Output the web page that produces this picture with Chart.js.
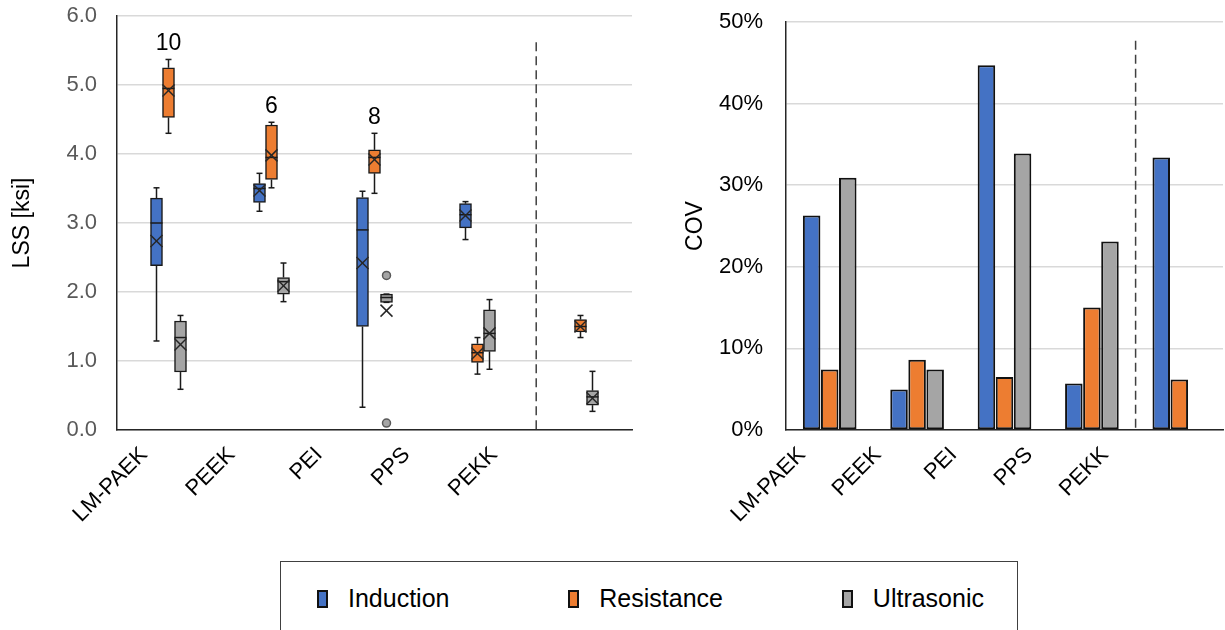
<!DOCTYPE html>
<html>
<head>
<meta charset="utf-8">
<script src="https://cdn.jsdelivr.net/npm/chart.js@4.4.0/dist/chart.umd.min.js"></script>
<style>
  body { margin: 0; width: 1225px; height: 630px; background: #fff; position: relative; overflow: hidden; font-family: 'Liberation Sans', Arial, sans-serif; }
  .panel { position: absolute; top: 0; height: 550px; }
  #legend { position: absolute; left: 280px; top: 561px; width: 738px; height: 90px; border: 1.5px solid #404040; box-sizing: border-box;
            display: flex; justify-content: space-between; align-items: flex-start; padding: 22px 33px 0 36px; }
  .item { display: flex; align-items: center; font-size: 25px; color: #000; }
  .swatch { width: 11px; height: 18px; border: 2px solid #111; box-sizing: border-box; margin-right: 20px; }
</style>
</head>
<body>
<div class="panel" style="left:0; width:650px;"><canvas id="lss"></canvas></div>
<div class="panel" style="left:650px; width:575px;"><canvas id="cov"></canvas></div>
<div id="legend"></div>
<script>
const categories = ['LM-PAEK', 'PEEK', 'PEI', 'PPS', 'PEKK'];
const methods = ['Induction', 'Resistance', 'Ultrasonic'];
const methodColors = ['#4472C4', '#ED7D31', '#A5A5A5'];

// LSS box plot stats [ksi], per category
const inductionMin    = [1.29, 3.17, 0.33, 2.76, null];
const inductionQ1     = [2.38, 3.30, 1.50, 2.93, null];
const inductionMedian = [3.00, 3.50, 2.90, 3.12, null];
const inductionQ3     = [3.36, 3.57, 3.37, 3.28, null];
const inductionMax    = [3.51, 3.72, 3.46, 3.31, null];
const inductionMean   = [2.74, 3.47, 2.42, 3.11, null];

const resistanceMin    = [4.30, 3.51, 3.43, 0.81, 1.34];
const resistanceQ1     = [4.53, 3.63, 3.72, 0.98, 1.42];
const resistanceMedian = [4.95, 3.95, 3.95, 1.12, 1.50];
const resistanceQ3     = [5.25, 4.42, 4.06, 1.25, 1.60];
const resistanceMax    = [5.37, 4.46, 4.30, 1.34, 1.66];
const resistanceMean   = [4.92, 3.98, 3.92, 1.11, 1.50];
const resistanceCount  = ['10', '6', '8', null, null];

const ultrasonicMin    = [0.59, 1.86, 1.85, 0.88, 0.27];
const ultrasonicQ1     = [0.84, 1.97, 1.85, 1.14, 0.36];
const ultrasonicMedian = [1.34, 2.15, 1.92, 1.40, 0.48];
const ultrasonicQ3     = [1.58, 2.21, 1.97, 1.74, 0.57];
const ultrasonicMax    = [1.66, 2.42, 1.97, 1.89, 0.85];
const ultrasonicMean   = [1.24, 2.09, 1.73, 1.40, 0.46];
const ultrasonicOutliers = [[], [], [2.24, 0.10], [], []];

// COV [%]
const inductionCov  = [26.3, 4.95, 44.7, 5.7, 33.4];
const resistanceCov = [7.4, 8.6, 6.5, 15.0, 6.2];
const ultrasonicCov = [30.9, 7.4, 33.9, 23.1, null];

const boxStats = [
  { min: inductionMin, q1: inductionQ1, med: inductionMedian, q3: inductionQ3, max: inductionMax, mean: inductionMean, out: [], count: [] },
  { min: resistanceMin, q1: resistanceQ1, med: resistanceMedian, q3: resistanceQ3, max: resistanceMax, mean: resistanceMean, out: [], count: resistanceCount },
  { min: ultrasonicMin, q1: ultrasonicQ1, med: ultrasonicMedian, q3: ultrasonicQ3, max: ultrasonicMax, mean: ultrasonicMean, out: ultrasonicOutliers, count: [] }
];

Chart.defaults.font.family = "'Liberation Sans', Arial, sans-serif";

// whiskers, median, mean marker, outliers, n labels
const boxWhisker = {
  id: 'boxWhisker',
  afterDatasetsDraw(chart) {
    const ctx = chart.ctx;
    const y = chart.scales.y;
    const line = (x1, y1, x2, y2) => { ctx.beginPath(); ctx.moveTo(x1, y1); ctx.lineTo(x2, y2); ctx.stroke(); };
    chart.data.datasets.forEach((ds, d) => {
      const st = boxStats[d];
      chart.getDatasetMeta(d).data.forEach((bar, i) => {
        if (st.q1[i] == null) return;
        const x = bar.x, hw = bar.width / 2;
        ctx.save();
        ctx.strokeStyle = '#1a1a1a';
        ctx.lineWidth = 1.5;
        line(x, y.getPixelForValue(st.q3[i]), x, y.getPixelForValue(st.max[i]));
        line(x - 3, y.getPixelForValue(st.max[i]), x + 3, y.getPixelForValue(st.max[i]));
        line(x, y.getPixelForValue(st.q1[i]), x, y.getPixelForValue(st.min[i]));
        line(x - 3, y.getPixelForValue(st.min[i]), x + 3, y.getPixelForValue(st.min[i]));
        line(x - hw, y.getPixelForValue(st.med[i]), x + hw, y.getPixelForValue(st.med[i]));
        const my = y.getPixelForValue(st.mean[i]);
        ctx.strokeStyle = '#262626';
        line(x - 6, my - 6, x + 6, my + 6);
        line(x - 6, my + 6, x + 6, my - 6);
        (st.out[i] || []).forEach(v => {
          ctx.beginPath();
          ctx.arc(x, y.getPixelForValue(v), 4, 0, Math.PI * 2);
          ctx.fillStyle = methodColors[d];
          ctx.fill();
          ctx.strokeStyle = '#595959';
          ctx.stroke();
        });
        if (st.count[i]) {
          ctx.fillStyle = '#000';
          ctx.font = "23px 'Liberation Sans', Arial, sans-serif";
          ctx.textAlign = 'center';
          ctx.textBaseline = 'alphabetic';
          ctx.fillText(st.count[i], x, y.getPixelForValue(st.max[i]) - 9);
        }
        ctx.restore();
      });
    });
  }
};

// dashed separator before PEKK
const divider = {
  id: 'divider',
  afterDatasetsDraw(chart, args, opts) {
    const { ctx, scales: { x, y } } = chart;
    const px = x.getPixelForValue(opts.at);
    ctx.save();
    ctx.setLineDash([9, 5]);
    ctx.strokeStyle = '#404040';
    ctx.lineWidth = 1.5;
    ctx.beginPath();
    ctx.moveTo(px, y.getPixelForValue(opts.top));
    ctx.lineTo(px, y.getPixelForValue(0));
    ctx.stroke();
    ctx.restore();
  }
};

// category names sit on their own axis, offset from the groups as in the original
function labelAxis(min, max) {
  return {
    type: 'linear', position: 'bottom', min: min, max: max, bounds: 'data', offset: false,
    afterBuildTicks: s => { s.ticks = categories.map((c, i) => ({ value: i + 1 })); },
    ticks: { autoSkip: false, minRotation: 45, maxRotation: 45, padding: 12, color: '#000', font: { size: 22 },
             callback: v => categories[v - 1] },
    grid: { display: false, drawTicks: false },
    border: { display: true, color: '#262626', width: 1.5 },
    afterFit: s => { s.height = 120; }
  };
}

function valueAxis(max, step, fmt, color, pad, title, titlePad, width) {
  return {
    min: 0, max: max,
    ticks: { stepSize: step, padding: pad, color: color, font: { size: 22 }, callback: fmt },
    grid: { color: '#d9d9d9', lineWidth: 1.5, drawTicks: false },
    border: { display: true, color: '#262626', width: 1.5 },
    title: { display: true, text: title, color: '#000', font: { size: 23 }, padding: { top: titlePad, bottom: 0 } },
    afterFit: s => { s.width = width; s.paddingTop = 0; s.paddingBottom = 0; }
  };
}

new Chart(document.getElementById('lss'), {
  type: 'bar',
  data: {
    labels: categories,
    datasets: boxStats.map((st, d) => ({
      label: methods[d],
      data: st.q1.map((v, i) => v == null ? null : [v, st.q3[i]]),
      backgroundColor: methodColors[d],
      borderColor: '#1a1a1a',
      borderWidth: 1.5,
      borderSkipped: false,
      barThickness: 12
    }))
  },
  options: {
    responsive: true, maintainAspectRatio: false, animation: false,
    layout: { padding: { top: 16, right: 18, left: 0, bottom: 0 } },
    plugins: { legend: { display: false }, tooltip: { enabled: false }, divider: { at: 3.57, top: 5.62 } },
    scales: {
      x: { display: false },
      xl: labelAxis(0.691, 6.577),
      y: valueAxis(6, 1, v => v.toFixed(1), '#595959', 20, 'LSS [ksi]', 9, 117)
    }
  },
  plugins: [boxWhisker, divider]
});

new Chart(document.getElementById('cov'), {
  type: 'bar',
  data: {
    labels: categories,
    datasets: [inductionCov, resistanceCov, ultrasonicCov].map((vals, d) => ({
      label: methods[d],
      data: vals,
      backgroundColor: methodColors[d],
      borderColor: '#111',
      borderWidth: 2,
      borderSkipped: false,
      categoryPercentage: 0.62,
      barPercentage: 0.97
    }))
  },
  options: {
    responsive: true, maintainAspectRatio: false, animation: false,
    layout: { padding: { top: 22, right: 2, left: 0, bottom: 0 } },
    plugins: { legend: { display: false }, tooltip: { enabled: false }, divider: { at: 3.5, top: 47.7 } },
    scales: {
      x: { display: false },
      xl: labelAxis(0.789, 6.558),
      y: valueAxis(50, 10, v => v + '%', '#000', 23, 'COV', 32, 136)
    }
  },
  plugins: [divider]
});

const legend = document.getElementById('legend');
methods.forEach((m, d) => {
  const item = document.createElement('div');
  item.className = 'item';
  const sw = document.createElement('span');
  sw.className = 'swatch';
  sw.style.background = methodColors[d];
  item.appendChild(sw);
  item.appendChild(document.createTextNode(m));
  legend.appendChild(item);
});
</script>
</body>
</html>
